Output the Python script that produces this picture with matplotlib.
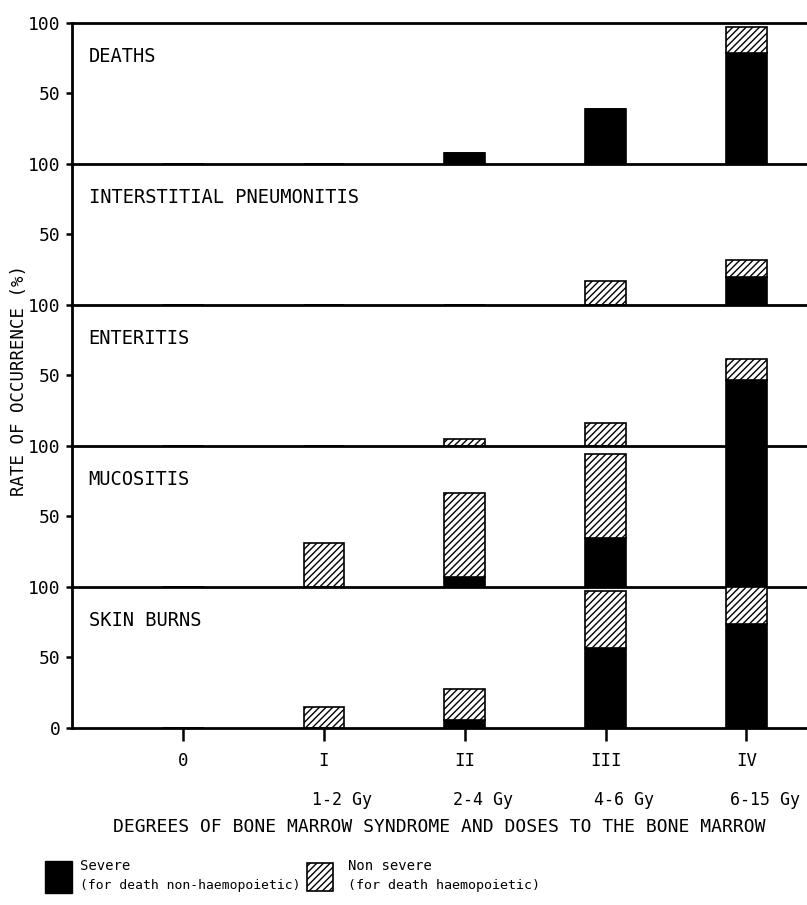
import matplotlib
matplotlib.use('Agg')
import matplotlib.pyplot as plt
import numpy as np

plt.rcParams['font.family'] = ['DejaVu Sans Mono']
plt.rcParams['hatch.linewidth'] = 1.0

# data (percent)
grades = ['0', 'I', 'II', 'III', 'IV']
doses = ['', '1-2 Gy', '2-4 Gy', '4-6 Gy', '6-15 Gy']
panels = ['DEATHS', 'INTERSTITIAL PNEUMONITIS', 'ENTERITIS', 'MUCOSITIS', 'SKIN BURNS']
severe = [
    [0, 0, 8, 39, 79],
    [0, 0, 0, 0, 20],
    [0, 0, 0, 0, 47],
    [0, 0, 7, 35, 99],
    [0, 0, 6, 57, 74],
]
nonsevere = [
    [0, 0, 0, 0, 18],
    [0, 0, 0, 17, 12],
    [0, 0, 5, 16, 15],
    [0, 31, 60, 59, 0],
    [0, 15, 22, 40, 26],
]

fig = plt.figure(figsize=(8.07, 9.05), dpi=100)
gs = fig.add_gridspec(5, 1, left=0.089, right=1.0, bottom=0.1956, top=0.9746, hspace=0)
x = np.arange(len(grades))
w = 0.29

axes = []
for i in range(5):
    ax = fig.add_subplot(gs[i])
    ax.set_facecolor('none')
    axes.append(ax)
    s = np.array(severe[i])
    n = np.array(nonsevere[i])
    ax.bar(x, s, w, color='black', edgecolor='black', linewidth=1.2)
    ax.bar(x, n, w, bottom=s, color='white', edgecolor='black', hatch='/////', linewidth=1.2)
    ax.set_xlim(-0.79, 4.43)
    ax.set_ylim(0, 100)
    ax.spines['right'].set_visible(False)
    ax.spines['top'].set_visible(i == 0)
    for sp in ['left', 'bottom', 'top']:
        ax.spines[sp].set_linewidth(2)
        ax.spines[sp].set_zorder(5)
    ax.text(-0.67, 76, panels[i], fontsize=13.5, va='center', ha='left')
    if i < 4:
        ax.set_yticks([50, 100])
        ax.set_xticks([])
    else:
        ax.set_yticks([0, 50, 100])
        ax.set_xticks(x)
        ax.set_xticklabels(grades)
        ax.tick_params(axis='x', length=9, width=1.8, pad=8, labelsize=12.5)
    ax.tick_params(axis='y', length=4, width=1.8, labelsize=13, pad=4)

bot = axes[-1]
for xi, d in zip(x, doses):
    bot.text(xi + 0.13, -0.51, d, transform=bot.get_xaxis_transform(), ha='center', va='center', fontsize=12)
bot.text(0.5, -0.7, 'DEGREES OF BONE MARROW SYNDROME AND DOSES TO THE BONE MARROW',
         transform=bot.transAxes, ha='center', va='center', fontsize=13)

fig.text(0.024, 0.58, 'RATE OF OCCURRENCE (%)', rotation=90, ha='center', va='center', fontsize=12.5)

# legend
lax = fig.add_axes([0, 0, 1, 0.06])
lax.set_xlim(0, 807)
lax.set_ylim(54.3, 0)
lax.axis('off')
lax.add_patch(plt.Rectangle((45, 10), 27, 32, facecolor='black', edgecolor='black'))
lax.add_patch(plt.Rectangle((307, 12), 26, 28, facecolor='white', edgecolor='black', hatch='/////', linewidth=1.2))
lax.text(80, 15, 'Severe', fontsize=10, va='center')
lax.text(80, 35, '(for death non-haemopoietic)', fontsize=9.4, va='center')
lax.text(348, 15, 'Non severe', fontsize=10, va='center')
lax.text(348, 35, '(for death haemopoietic)', fontsize=9.6, va='center')

fig.savefig('out.png', dpi=100)
